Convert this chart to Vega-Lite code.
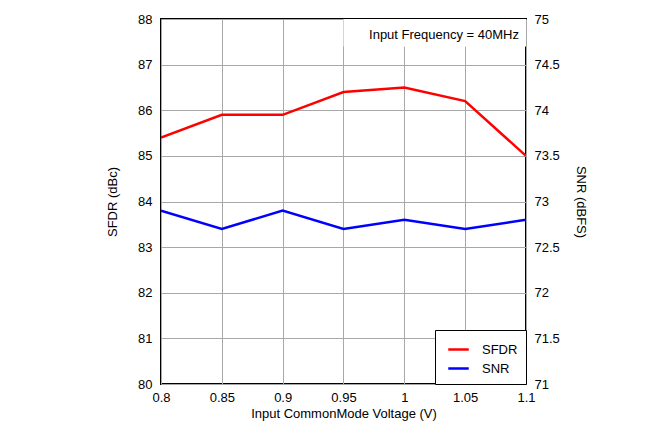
{
  "$schema": "https://vega.github.io/schema/vega-lite/v6.json",
  "width": 365,
  "height": 365,
  "autosize": {"type": "none"},
  "padding": {"left": 161, "top": 19, "right": 143, "bottom": 50},
  "background": "white",
  "config": {
    "font": "Liberation Sans",
    "view": {"stroke": "black", "strokeWidth": 2},
    "axis": {
      "labelFont": "Liberation Sans",
      "titleFont": "Liberation Sans",
      "labelFontSize": 13,
      "titleFontSize": 13,
      "titleFontWeight": "normal",
      "labelColor": "black",
      "titleColor": "black",
      "ticks": false,
      "domain": false,
      "gridColor": "#a8a8a8",
      "gridWidth": 1,
      "gridOpacity": 1
    },
    "legend": {
      "labelFont": "Liberation Sans",
      "labelFontSize": 13,
      "labelColor": "black"
    }
  },
  "data": {
    "values": [
      {"voltage": 0.8, "series": "SFDR", "value": 85.4},
      {"voltage": 0.85, "series": "SFDR", "value": 85.9},
      {"voltage": 0.9, "series": "SFDR", "value": 85.9},
      {"voltage": 0.95, "series": "SFDR", "value": 86.4},
      {"voltage": 1.0, "series": "SFDR", "value": 86.5},
      {"voltage": 1.05, "series": "SFDR", "value": 86.2},
      {"voltage": 1.1, "series": "SFDR", "value": 85.0},
      {"voltage": 0.8, "series": "SNR", "value": 72.9},
      {"voltage": 0.85, "series": "SNR", "value": 72.7},
      {"voltage": 0.9, "series": "SNR", "value": 72.9},
      {"voltage": 0.95, "series": "SNR", "value": 72.7},
      {"voltage": 1.0, "series": "SNR", "value": 72.8},
      {"voltage": 1.05, "series": "SNR", "value": 72.7},
      {"voltage": 1.1, "series": "SNR", "value": 72.8}
    ]
  },
  "layer": [
    {
      "transform": [{"filter": "datum.series === 'SFDR'"}],
      "mark": {"type": "line", "strokeWidth": 2.5, "clip": true},
      "encoding": {
        "x": {
          "field": "voltage", "type": "quantitative",
          "scale": {"domain": [0.8, 1.1], "nice": false, "zero": false},
          "axis": {
            "title": "Input CommonMode Voltage (V)",
            "values": [0.8, 0.85, 0.9, 0.95, 1.0, 1.05, 1.1],
            "format": "~f",
            "labelPadding": 7,
            "titlePadding": 3,
            "labelFlush": false,
            "grid": true
          }
        },
        "y": {
          "field": "value", "type": "quantitative",
          "scale": {"domain": [80, 88], "nice": false, "zero": false},
          "axis": {
            "title": "SFDR (dBc)",
            "orient": "left",
            "values": [80, 81, 82, 83, 84, 85, 86, 87, 88],
            "format": "~f",
            "labelPadding": 9,
            "titlePadding": 18,
            "labelFlush": false,
            "grid": true
          }
        },
        "color": {
          "field": "series", "type": "nominal",
          "scale": {"domain": ["SFDR", "SNR"], "range": ["#ff0000", "#0000ff"]},
          "legend": {
            "title": null,
            "orient": "bottom-right",
            "offset": 0,
            "fillColor": "white",
            "strokeColor": "black",
            "padding": 8,
            "symbolType": "stroke",
            "symbolStrokeWidth": 2.5,
            "symbolSize": 420,
            "symbolOffset": 4,
            "labelOffset": 12,
            "rowPadding": -5,
            "labelLimit": 60
          }
        }
      }
    },
    {
      "transform": [{"filter": "datum.series === 'SNR'"}],
      "mark": {"type": "line", "strokeWidth": 2.5, "clip": true},
      "encoding": {
        "x": {"field": "voltage", "type": "quantitative"},
        "y": {
          "field": "value", "type": "quantitative",
          "scale": {"domain": [71, 75], "nice": false, "zero": false},
          "axis": {
            "title": "SNR (dBFS)",
            "orient": "right",
            "values": [71, 71.5, 72, 72.5, 73, 73.5, 74, 74.5, 75],
            "format": "~f",
            "labelPadding": 8,
            "titlePadding": 14,
            "labelFlush": false,
            "grid": false
          }
        },
        "color": {"field": "series", "type": "nominal"}
      }
    },
    {
      "data": {"values": [{"x1": 0.95, "x2": 1.1, "y1": 87.4, "y2": 88, "label": "Input Frequency = 40MHz"}]},
      "layer": [
        {
          "mark": {"type": "rect", "fill": "white", "stroke": null},
          "encoding": {
            "x": {"field": "x1", "type": "quantitative"},
            "x2": {"field": "x2"},
            "y": {"field": "y1", "type": "quantitative", "scale": {"domain": [80, 88], "nice": false, "zero": false}, "axis": null},
            "y2": {"field": "y2"}
          }
        },
        {
          "mark": {"type": "text", "align": "right", "baseline": "middle", "dx": -7, "dy": 16, "fontSize": 13, "font": "Liberation Sans", "color": "black"},
          "encoding": {
            "x": {"field": "x2", "type": "quantitative"},
            "y": {"field": "y2", "type": "quantitative", "scale": {"domain": [80, 88], "nice": false, "zero": false}, "axis": null},
            "text": {"field": "label"}
          }
        }
      ]
    }
  ],
  "resolve": {"scale": {"y": "independent"}}
}
